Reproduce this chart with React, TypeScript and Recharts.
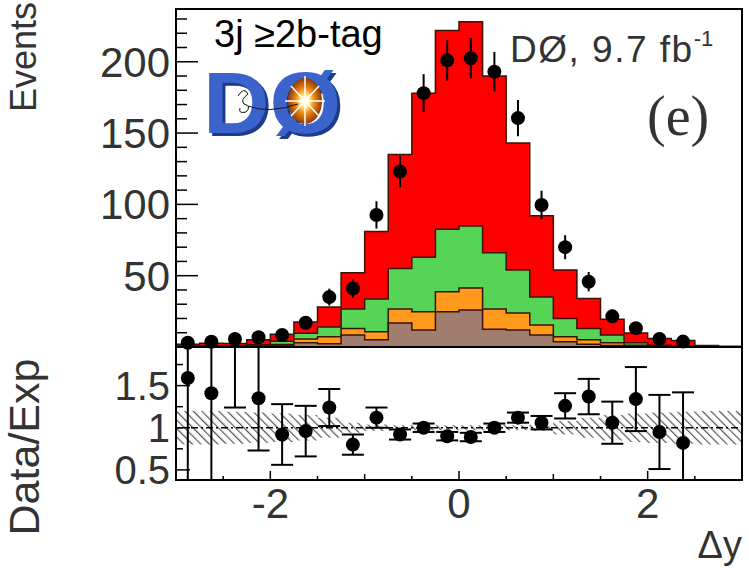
import React from "react";
import {
  ComposedChart,
  Area,
  Scatter,
  ErrorBar,
  XAxis,
  YAxis,
  ReferenceLine,
  ReferenceArea,
} from "recharts";

// bins of delta-y, width 0.25
const binEdges = [-3, -2.75, -2.5, -2.25, -2, -1.75, -1.5, -1.25, -1, -0.75, -0.5, -0.25, 0, 0.25, 0.5, 0.75, 1, 1.25, 1.5, 1.75, 2, 2.25, 2.5, 2.75, 3];
const binCenters = [-2.875, -2.625, -2.375, -2.125, -1.875, -1.625, -1.375, -1.125, -0.875, -0.625, -0.375, -0.125, 0.125, 0.375, 0.625, 0.875, 1.125, 1.375, 1.625, 1.875, 2.125, 2.375, 2.625, 2.875];

// stacked expectation, cumulative tops per bin
const brownTop = [0.2, 0.3, 0.3, 0.5, 1, 3, 2.3, 8.4, 5, 16.8, 12, 24.8, 26, 12.5, 12, 8.4, 3.7, 2, 1, 0.5, 0.3, 0.2, 0.1, 0.1];
const orangeTop = [0.3, 0.4, 0.5, 0.8, 1.8, 5.6, 7.2, 13, 10.7, 26.6, 24.8, 38.8, 41.3, 26.6, 23.8, 15.4, 7.2, 5, 3, 1.2, 0.6, 0.4, 0.2, 0.1];
const greenTop = [0.5, 0.8, 0.8, 1.5, 4, 9.6, 14, 26.6, 33.6, 55, 63, 82.5, 84.8, 66, 54, 35, 20, 13, 8.4, 3, 1.2, 0.6, 0.3, 0.2];
const redTop = [1.9, 2.6, 2.4, 5, 9, 17.5, 28, 52, 81, 135, 178, 222, 228, 190, 143, 92, 54, 34, 19.5, 9.8, 5.9, 4.5, 1, 0.5];

// data (first 22 bins)
const dataEvents = [3, 3.7, 5.6, 6.8, 8.4, 17, 35, 41, 92.6, 123, 178, 201, 202.5, 193, 160.5, 99.6, 70, 45.8, 21.5, 13.2, 5.6, 3.8];
const dataErr = [1.7, 1.9, 2.4, 2.6, 2.9, 4.1, 5.9, 6.4, 9.6, 11, 13.3, 14.2, 14.2, 13.9, 12.7, 10, 8.4, 6.8, 4.6, 3.6, 2.4, 2];

// data / expectation
const ratio = [1.59, 1.41, 2.3, 1.35, 0.92, 0.96, 1.24, 0.8, 1.12, 0.92, 1.0, 0.9, 0.89, 1.0, 1.12, 1.06, 1.26, 1.37, 1.06, 1.34, 0.95, 0.82];
const ratioErr = [1.3, 1.1, 1.06, 0.62, 0.36, 0.3, 0.22, 0.12, 0.12, 0.06, 0.05, 0.05, 0.05, 0.05, 0.06, 0.08, 0.15, 0.21, 0.25, 0.38, 0.44, 0.6];
const bandHalf = [0.2, 0.2, 0.19, 0.18, 0.17, 0.15, 0.12, 0.06, 0.04, 0.03, 0.03, 0.03, 0.03, 0.03, 0.03, 0.04, 0.08, 0.12, 0.15, 0.17, 0.18, 0.19, 0.2, 0.2];

const eventTicks = [10, 20, 30, 40, 50, 60, 70, 80, 90, 100, 110, 120, 130, 140, 150, 160, 170, 180, 190, 200, 210, 220, 230];
const eventLabels = [50, 100, 150, 200];
const ratioTicks = [0.5, 0.75, 1, 1.25, 1.5, 1.75];
const ratioLabels = [0.5, 1, 1.5];
const xTicks = [-2.5, -2, -1.5, -1, -0.5, 0, 0.5, 1, 1.5, 2, 2.5];
const xLabels = [-2, 0, 2];

const histRows = binEdges.map((x, i) => {
  const b = Math.min(i, binCenters.length - 1);
  return {
    x,
    brown: brownTop[b],
    orange: orangeTop[b],
    green: greenTop[b],
    red: redTop[b],
    band: [1 - bandHalf[b], 1 + bandHalf[b]],
  };
});
const eventPts = dataEvents.map((y, i) => ({ x: binCenters[i], y, err: dataErr[i] }));
const ratioPts = ratio.map((y, i) => ({ x: binCenters[i], y, err: ratioErr[i] }));

const FONT = "'Liberation Sans', Arial, sans-serif";
const LABEL = "#333";
const OUTLINE = "#3a1208";

const Dot = (p: any) => <circle cx={p.cx} cy={p.cy} r={7} fill="#000" />;

const EventsTick = (p: any) => {
  const v = p.payload.value;
  const major = eventLabels.includes(v);
  return (
    <g>
      <line x1={p.x} x2={p.x + (major ? 22 : 11)} y1={p.y} y2={p.y} stroke="#000" strokeWidth={1.5} />
      {major && (
        <text x={p.x - 6} y={p.y + 15} textAnchor="end" fontSize={42} fontFamily={FONT} fill={LABEL}>
          {v}
        </text>
      )}
    </g>
  );
};

const RatioTick = (p: any) => {
  const v = p.payload.value;
  const major = ratioLabels.includes(v);
  return (
    <g>
      <line x1={p.x} x2={p.x + (major ? 14 : 7)} y1={p.y} y2={p.y} stroke="#000" strokeWidth={1.5} />
      {major && (
        <text x={p.x - 6} y={p.y + 14} textAnchor="end" fontSize={40} fontFamily={FONT} fill={LABEL}>
          {v}
        </text>
      )}
    </g>
  );
};

const XTick = (p: any) => {
  const v = p.payload.value;
  const label = xLabels.includes(v);
  const len = label ? 9 : Number.isInteger(v) ? 6 : 4;
  return (
    <g>
      <line x1={p.x} x2={p.x} y1={p.y} y2={p.y - len} stroke="#000" strokeWidth={1.5} />
      {label && (
        <text x={p.x} y={p.y + 38} textAnchor="middle" fontSize={42} fontFamily={FONT} fill={LABEL}>
          {v}
        </text>
      )}
    </g>
  );
};

function Logo() {
  return (
    <g>
      <defs>
        <radialGradient id="burst" cx="0.5" cy="0.5" r="0.5">
          <stop offset="0%" stopColor="#ffffff" />
          <stop offset="25%" stopColor="#fff2a0" />
          <stop offset="55%" stopColor="#f08a10" />
          <stop offset="100%" stopColor="#8a3a06" />
        </radialGradient>
        <filter id="logoShadow" x="-10%" y="-10%" width="130%" height="130%">
          <feDropShadow dx={3} dy={3} stdDeviation={0.6} floodColor="#1d3a8a" floodOpacity={1} />
        </filter>
      </defs>
      <text
        x={203}
        y={133}
        fontSize={88}
        fontWeight="bold"
        fontFamily={FONT}
        fill="#3b63cc"
        textLength={138}
        lengthAdjust="spacingAndGlyphs"
        filter="url(#logoShadow)"
      >
        DØ
      </text>
      <ellipse cx={305} cy={101} rx={17} ry={23} fill="url(#burst)" />
      <g stroke="#fff" strokeWidth={1.5}>
        <line x1={285} y1={101} x2={325} y2={101} />
        <line x1={305} y1={76} x2={305} y2={126} />
        <line x1={291} y1={86} x2={319} y2={116} />
        <line x1={319} y1={86} x2={291} y2={116} />
      </g>
      <path d="M238 96 q6 -10 10 -2 q-8 6 -4 10 q8 2 2 8 q-8 2 -6 -4 M248 106 q20 8 50 -2" stroke="#111" strokeWidth={1} fill="none" />
    </g>
  );
}

const clipCss =
  "#ratio-panel [class*='errorBar'], #ratio-panel .recharts-scatter, #ratio-panel .recharts-scatter-symbol { clip-path: url(#ratioClip); }";

export default function App() {
  return (
    <div style={{ position: "absolute", left: 0, top: 0, width: 749, height: 568, background: "#fff", overflow: "hidden" }}>
      <style>{clipCss}</style>
      <div style={{ position: "absolute", left: 0, top: 0 }}>
        <ComposedChart width={749} height={350} data={histRows} margin={{ top: 9, right: 7, bottom: 3, left: 76 }}>
          <XAxis type="number" dataKey="x" domain={[-3, 3]} hide />
          <YAxis
            type="number"
            domain={[0, 237]}
            ticks={eventTicks}
            width={100}
            axisLine={false}
            tickLine={false}
            tickSize={0}
            tickMargin={0}
            tick={<EventsTick />}
            interval={0}
          />
          <Area type="stepAfter" dataKey="red" fill="#ff0000" fillOpacity={1} stroke={OUTLINE} strokeWidth={1.5} isAnimationActive={false} dot={false} activeDot={false} />
          <Area type="stepAfter" dataKey="green" fill="#55d455" fillOpacity={1} stroke={OUTLINE} strokeWidth={1.5} isAnimationActive={false} dot={false} activeDot={false} />
          <Area type="stepAfter" dataKey="orange" fill="#ff9a1c" fillOpacity={1} stroke={OUTLINE} strokeWidth={1.5} isAnimationActive={false} dot={false} activeDot={false} />
          <Area type="stepAfter" dataKey="brown" fill="#a07d6e" fillOpacity={1} stroke={OUTLINE} strokeWidth={1.5} isAnimationActive={false} dot={false} activeDot={false} />
          <Scatter data={eventPts} dataKey="y" shape={Dot} isAnimationActive={false}>
            <ErrorBar dataKey="err" direction="y" width={0} stroke="#000" strokeWidth={2} />
          </Scatter>
          <ReferenceArea x1={-3} x2={3} y1={0} y2={237} fill="none" stroke="#000" strokeWidth={2} />
        </ComposedChart>
      </div>
      <div id="ratio-panel" style={{ position: "absolute", left: 0, top: 346 }}>
        <ComposedChart width={749} height={222} data={histRows} margin={{ top: 0, right: 7, bottom: 28, left: 76 }}>
          <defs>
            <pattern id="hatch" width={6} height={6} patternUnits="userSpaceOnUse" patternTransform="rotate(-45)">
              <line x1={0} y1={0} x2={0} y2={6} stroke="#555" strokeWidth={2.4} />
            </pattern>
            <clipPath id="ratioClip" clipPathUnits="userSpaceOnUse">
              <rect x={176} y={0} width={566} height={134} />
            </clipPath>
          </defs>
          <XAxis
            type="number"
            dataKey="x"
            domain={[-3, 3]}
            ticks={xTicks}
            height={60}
            axisLine={false}
            tickLine={false}
            tickSize={0}
            tickMargin={0}
            tick={<XTick />}
            interval={0}
          />
          <YAxis
            type="number"
            domain={[0.38, 1.97]}
            allowDataOverflow
            ticks={ratioTicks}
            width={100}
            axisLine={false}
            tickLine={false}
            tickSize={0}
            tickMargin={0}
            tick={<RatioTick />}
            interval={0}
          />
          <Area type="stepAfter" dataKey="band" fill="url(#hatch)" fillOpacity={1} stroke="none" isAnimationActive={false} dot={false} activeDot={false} />
          <ReferenceLine y={1} stroke="#000" strokeWidth={1.5} strokeDasharray="7 3 2 3" />
          <Scatter data={ratioPts} dataKey="y" shape={Dot} isAnimationActive={false}>
            <ErrorBar dataKey="err" direction="y" width={11} stroke="#000" strokeWidth={2} />
          </Scatter>
          <ReferenceArea x1={-3} x2={3} y1={0.38} y2={1.97} fill="none" stroke="#000" strokeWidth={2} ifOverflow="visible" />
        </ComposedChart>
      </div>
      <svg width={749} height={568} style={{ position: "absolute", left: 0, top: 0, pointerEvents: "none" }}>
        <text transform="translate(36,57) rotate(-90)" textAnchor="middle" fontSize={36} fontFamily={FONT} fill={LABEL}>
          Events
        </text>
        <text transform="translate(39,447) rotate(-90)" textAnchor="middle" fontSize={43} fontFamily={FONT} fill={LABEL}>
          Data/Exp
        </text>
        <text x={742} y={558} textAnchor="end" fontSize={38} fontFamily={FONT} fill={LABEL}>
          Δy
        </text>
        <text x={214} y={47} fontSize={38} fontFamily={FONT} fill="#000">
          3j ≥2b-tag
        </text>
        <text x={510} y={62} fontSize={37} fontFamily={FONT} fill="#333" letterSpacing={1.5}>
          DØ, 9.7 fb
          <tspan dy={-16} fontSize={22} letterSpacing={0}>-1</tspan>
        </text>
        <text x={647} y={135} fontSize={56} fontFamily="'Liberation Serif', 'DejaVu Serif', serif" fill="#333">
          (e)
        </text>
        <Logo />
      </svg>
    </div>
  );
}
